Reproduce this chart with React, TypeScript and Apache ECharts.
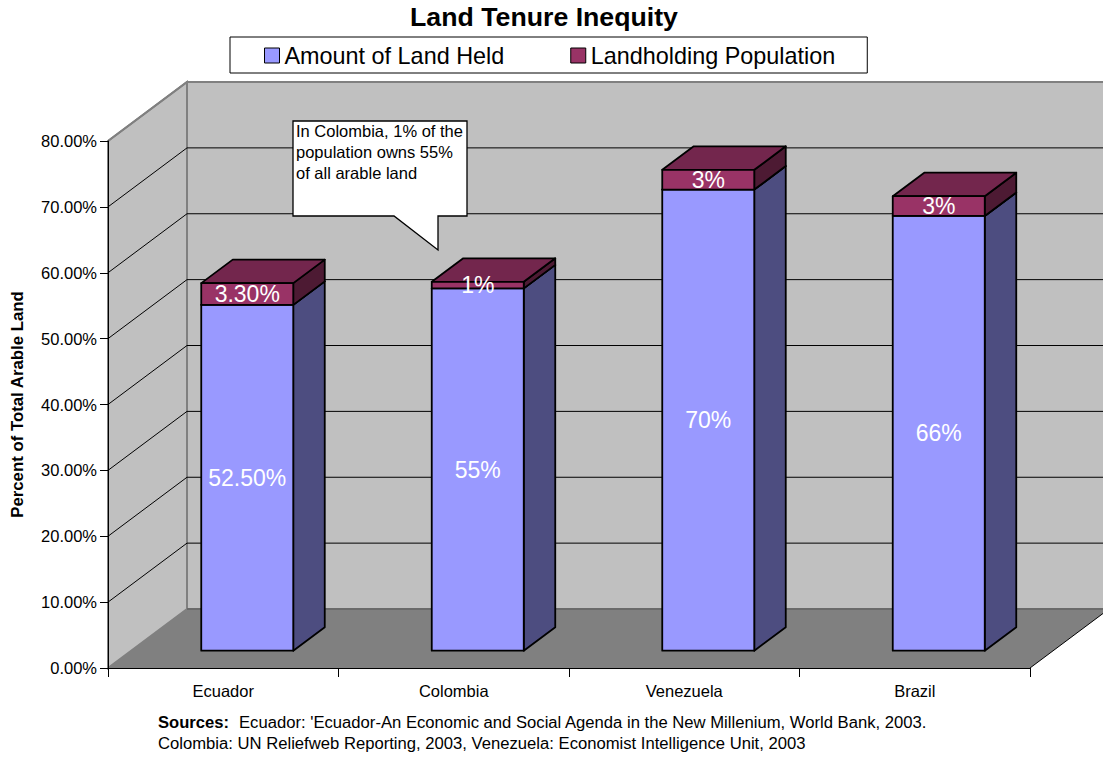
import React, { useEffect, useRef } from "react";
import * as echarts from "echarts";

const categories = ["Ecuador", "Colombia", "Venezuela", "Brazil"];
const landHeld = [52.5, 55, 70, 66];
const landPopulation = [3.3, 1, 3, 3];
const landHeldLabels = ["52.50%", "55%", "70%", "66%"];
const landPopulationLabels = ["3.30%", "1%", "3%", "3%"];
const valueTicks = [10, 20, 30, 40, 50, 60, 70, 80];
const seriesNames = ["Amount of Land Held", "Landholding Population"];

const FONT = '"Liberation Sans", Arial, sans-serif';
const WALL_DX = 79;
const WALL_DY = 59;
const BAR_SHIFT_X = 24;
const BAR_SHIFT_Y = 17.3;
const BAR_W = 92;
const BAR_DX = 31.5;
const BAR_DY = 23.5;

const stroke = { stroke: "#000", lineWidth: 1.8, lineJoin: "round" };

function renderWalls(params: any) {
  const { x, y, width, height } = params.coordSys;
  const b = y + height;
  const r = x + width;
  const edge = { stroke: "#808080", lineWidth: 2 };
  return {
    type: "group",
    children: [
      {
        type: "rect",
        shape: { x: x + WALL_DX, y: y - WALL_DY, width: width + 10, height },
        style: { fill: "#c0c0c0", ...edge },
      },
      {
        type: "polygon",
        shape: { points: [[x, y], [x + WALL_DX, y - WALL_DY], [x + WALL_DX, b - WALL_DY], [x, b]] },
        style: { fill: "#c0c0c0", ...edge },
      },
      {
        type: "polygon",
        shape: { points: [[x, b], [x + WALL_DX, b - WALL_DY], [r + WALL_DX, b - WALL_DY], [r, b]] },
        style: { fill: "#808080", stroke: "none" },
      },
      {
        type: "line",
        shape: { x1: x + WALL_DX, y1: b - WALL_DY, x2: r + WALL_DX, y2: b - WALL_DY },
        style: { stroke: "#6a6a6a", lineWidth: 2 },
      },
      {
        type: "line",
        shape: { x1: r, y1: b, x2: r + WALL_DX, y2: b - WALL_DY },
        style: { stroke: "#000", lineWidth: 1 },
      },
    ],
  };
}

function renderGrid(params: any, api: any) {
  const { x, width } = params.coordSys;
  const yv = api.coord([0, api.value(1)])[1];
  const top = api.value(1) === 80;
  return {
    type: "polyline",
    shape: {
      points: [[x, yv], [x + WALL_DX, yv - WALL_DY], [x + width + WALL_DX, yv - WALL_DY]],
    },
    style: { fill: "none", stroke: top ? "#808080" : "#000", lineWidth: top ? 2 : 1 },
  };
}

function renderBar(colors: { front: string; side: string; top: string }, labels: string[]) {
  return (params: any, api: any) => {
    const c = api.coord([api.value(0), 0]);
    const x0 = c[0] + BAR_SHIFT_X - BAR_W / 2;
    const x1 = x0 + BAR_W;
    const yLow = api.coord([api.value(0), api.value(1)])[1] - BAR_SHIFT_Y;
    const yHigh = api.coord([api.value(0), api.value(2)])[1] - BAR_SHIFT_Y;
    return {
      type: "group",
      children: [
        {
          type: "polygon",
          shape: { points: [[x1, yHigh], [x1 + BAR_DX, yHigh - BAR_DY], [x1 + BAR_DX, yLow - BAR_DY], [x1, yLow]] },
          style: { fill: colors.side, ...stroke },
        },
        {
          type: "polygon",
          shape: { points: [[x0, yHigh], [x0 + BAR_DX, yHigh - BAR_DY], [x1 + BAR_DX, yHigh - BAR_DY], [x1, yHigh]] },
          style: { fill: colors.top, ...stroke },
        },
        {
          type: "rect",
          shape: { x: x0, y: yHigh, width: BAR_W, height: yLow - yHigh },
          style: { fill: colors.front, ...stroke },
        },
        {
          type: "text",
          style: {
            text: labels[params.dataIndex],
            x: (x0 + x1) / 2,
            y: (yHigh + yLow) / 2,
            align: "center",
            verticalAlign: "middle",
            fill: "#fff",
            font: `23px ${FONT}`,
          },
        },
      ],
    };
  };
}

export default function App() {
  const ref = useRef<HTMLDivElement>(null);
  useEffect(() => {
    const chart = echarts.init(ref.current!, undefined, { renderer: "svg" });
    chart.setOption({
      animation: false,
      backgroundColor: "#fff",
      textStyle: { fontFamily: FONT },
      title: {
        text: "Land Tenure Inequity",
        left: 544,
        top: -2,
        textAlign: "center",
        textStyle: { fontFamily: FONT, fontSize: 26.7, fontWeight: "bold", color: "#000" },
        padding: [5, 10, 5, 0],
      },
      legend: {
        left: 230,
        top: 37,
        selectedMode: false,
        orient: "horizontal",
        itemWidth: 15,
        itemHeight: 15,
        itemGap: 66,
        padding: [7, 32, 6, 34],
        borderColor: "#000",
        borderWidth: 1,
        backgroundColor: "#fff",
        textStyle: { fontFamily: FONT, fontSize: 23.4, color: "#000" },
        data: [
          { name: seriesNames[0], icon: "rect", itemStyle: { color: "#9999ff", borderColor: "#000", borderWidth: 1 } },
          { name: seriesNames[1], icon: "rect", itemStyle: { color: "#993366", borderColor: "#000", borderWidth: 1 } },
        ],
      },
      grid: { left: 108, top: 141, width: 922, height: 527, outerBoundsMode: "none" },
      xAxis: {
        type: "category",
        data: categories,
        z: 6,
        axisLine: { lineStyle: { color: "#000", width: 1 } },
        axisTick: { show: true, length: 9, lineStyle: { color: "#000" } },
        axisLabel: { color: "#000", fontSize: 16.5, margin: 14, fontFamily: FONT },
      },
      yAxis: {
        type: "value",
        min: 0,
        max: 80,
        interval: 10,
        z: 6,
        name: "Percent of Total Arable Land",
        nameLocation: "middle",
        nameGap: 82,
        nameTextStyle: { color: "#000", fontSize: 16.8, fontWeight: "bold", fontFamily: FONT },
        axisLine: { show: true, lineStyle: { color: "#000", width: 1 } },
        axisTick: { show: true, length: 8, lineStyle: { color: "#000" } },
        axisLabel: {
          color: "#000",
          fontSize: 16.5,
          margin: 11,
          fontFamily: FONT,
          formatter: (v: number) => v.toFixed(2) + "%",
        },
        splitLine: { show: false },
      },
      series: [
        {
          type: "custom",
          silent: true,
          z: 1,
          clip: false,
          renderItem: renderWalls,
          data: [[0, 0]],
          encode: { x: 0, y: 1 },
        },
        {
          type: "custom",
          silent: true,
          z: 2,
          clip: false,
          renderItem: renderGrid,
          data: valueTicks.map((v) => [0, v]),
          encode: { x: 0, y: 1 },
        },
        {
          name: seriesNames[0],
          type: "custom",
          z: 3,
          clip: false,
          renderItem: renderBar({ front: "#9999ff", side: "#4d4d80", top: "#7373bf" }, landHeldLabels),
          data: landHeld.map((v, i) => [i, 0, v]),
          encode: { x: 0, y: 2 },
        },
        {
          name: seriesNames[1],
          type: "custom",
          z: 4,
          clip: false,
          renderItem: renderBar({ front: "#993366", side: "#4d1a33", top: "#73264d" }, landPopulationLabels),
          data: landPopulation.map((v, i) => [i, landHeld[i], landHeld[i] + v]),
          encode: { x: 0, y: 2 },
        },
      ],
      graphic: [
        {
          type: "polygon",
          z: 10,
          shape: {
            points: [[293, 121], [467, 121], [467, 216], [438, 216], [438, 250], [394, 216], [293, 216]],
          },
          style: { fill: "#fff", stroke: "#000", lineWidth: 1.3 },
        },
        {
          type: "text",
          z: 11,
          x: 296,
          y: 120,
          style: {
            text: "In Colombia, 1% of the\npopulation owns 55%\nof all arable land",
            font: `16.5px ${FONT}`,
            lineHeight: 21,
            fill: "#000",
          },
        },
        {
          type: "text",
          x: 158,
          y: 714,
          style: { text: "Sources:", font: `bold 16.6px ${FONT}`, fill: "#000" },
        },
        {
          type: "text",
          x: 239,
          y: 714,
          style: {
            text: "Ecuador: 'Ecuador-An Economic and Social Agenda in the New Millenium, World Bank, 2003.",
            font: `16.65px ${FONT}`,
            fill: "#000",
          },
        },
        {
          type: "text",
          x: 158,
          y: 735,
          style: {
            text: "Colombia: UN Reliefweb Reporting, 2003, Venezuela: Economist Intelligence Unit, 2003",
            font: `16.65px ${FONT}`,
            fill: "#000",
          },
        },
      ],
    });
    return () => chart.dispose();
  }, []);
  return <div ref={ref} style={{ position: "fixed", left: 0, top: 0, width: 1103, height: 759 }} />;
}
